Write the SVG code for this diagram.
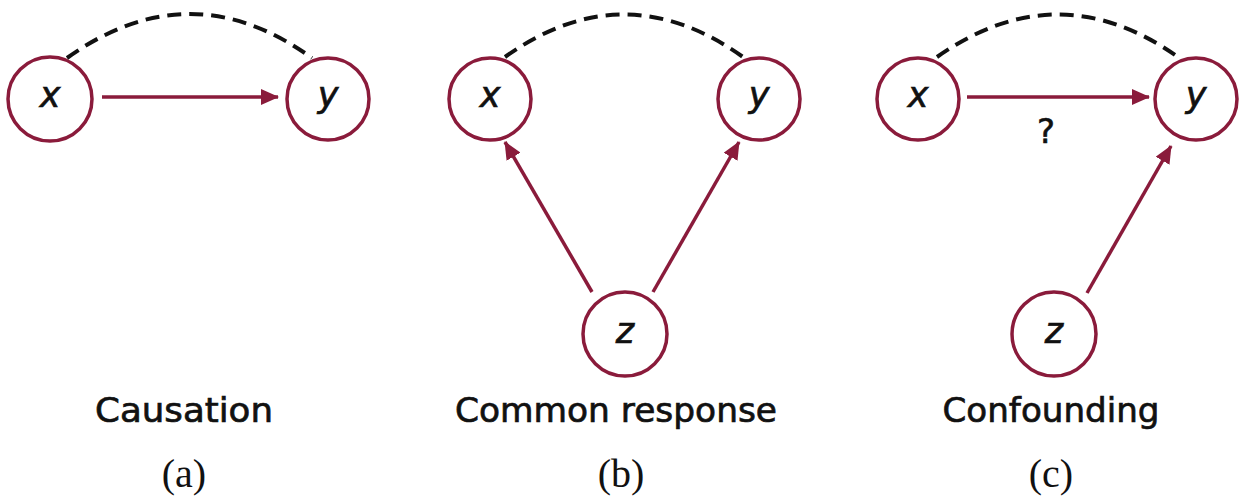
<svg xmlns="http://www.w3.org/2000/svg" width="1239" height="497" viewBox="0 0 1239 497">
<style>
.node circle{fill:#fff;stroke:#8a1b3b;stroke-width:3.5}
.node text{font-family:"DejaVu Sans","Liberation Sans",sans-serif;font-style:italic;font-size:35px;fill:#111;stroke:#111;stroke-width:0.7;text-anchor:middle}
.edge{stroke:#8a1b3b;stroke-width:3.5;fill:none}
.dash{stroke:#111;stroke-width:4;fill:none;stroke-dasharray:14 8}
.lbl{font-family:"DejaVu Sans","Liberation Sans",sans-serif;font-size:34px;fill:#111;stroke:#111;stroke-width:0.7;text-anchor:middle}
.sub{font-family:"Liberation Serif",serif;font-size:40px;fill:#111;text-anchor:middle}
.q{font-family:"DejaVu Sans","Liberation Sans",sans-serif;font-size:34px;fill:#111;stroke:#111;stroke-width:0.6;text-anchor:middle}
</style>
<defs>
<marker id="ah" markerUnits="userSpaceOnUse" markerWidth="18" markerHeight="16" refX="17" refY="8" orient="auto">
<path d="M0,0 L18,8 L0,16 Z" fill="#8a1b3b"/>
</marker>
</defs>
<g id="connectors">
<path class="dash" d="M67,58 Q190,-30 312,58"/>
<line class="edge" x1="102" y1="97" x2="278" y2="97" marker-end="url(#ah)"/>
<path class="dash" d="M505,57 Q624,-28 743,57"/>
<line class="edge" x1="592" y1="292" x2="505" y2="142" marker-end="url(#ah)"/>
<line class="edge" x1="653" y1="292" x2="739" y2="142" marker-end="url(#ah)"/>
<path class="dash" d="M937,57 Q1058,-28 1178,57"/>
<line class="edge" x1="967" y1="97" x2="1149" y2="97" marker-end="url(#ah)"/>
<text class="q" x="1046" y="143">?</text>
<line class="edge" x1="1087" y1="293" x2="1171" y2="146" marker-end="url(#ah)"/>
</g>
<g id="a-x" class="node"><circle cx="50" cy="99" r="42"/><text x="50" y="107">x</text></g>
<g id="a-y" class="node"><circle cx="328" cy="99" r="41"/><text x="328" y="107">y</text></g>
<g id="b-x" class="node"><circle cx="490" cy="99" r="41"/><text x="490" y="107">x</text></g>
<g id="b-y" class="node"><circle cx="759" cy="99" r="41"/><text x="759" y="107">y</text></g>
<g id="b-z" class="node"><circle cx="625" cy="334" r="42"/><text x="625" y="343">z</text></g>
<g id="c-x" class="node"><circle cx="918" cy="99" r="41"/><text x="918" y="107">x</text></g>
<g id="c-y" class="node"><circle cx="1196" cy="99" r="41"/><text x="1196" y="107">y</text></g>
<g id="c-z" class="node"><circle cx="1054" cy="334" r="42"/><text x="1054" y="343">z</text></g>
<g id="labels">
<text class="lbl" x="184" y="422" textLength="178" lengthAdjust="spacingAndGlyphs">Causation</text>
<text class="lbl" x="616" y="422" textLength="322" lengthAdjust="spacingAndGlyphs">Common response</text>
<text class="lbl" x="1051" y="422" textLength="217" lengthAdjust="spacingAndGlyphs">Confounding</text>
<text class="sub" x="184" y="487">(a)</text>
<text class="sub" x="621" y="487">(b)</text>
<text class="sub" x="1051" y="487">(c)</text>
</g>
</svg>
